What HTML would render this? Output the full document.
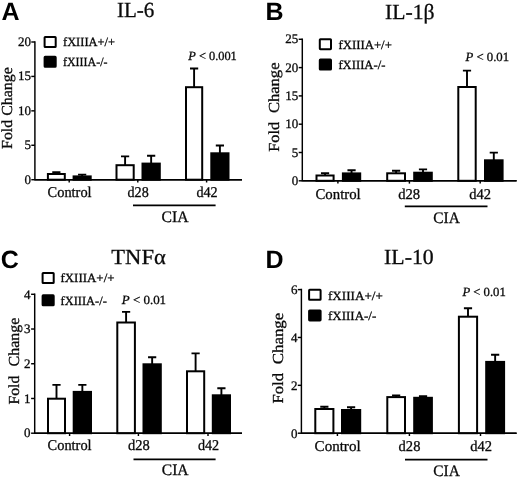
<!DOCTYPE html>
<html><head><meta charset="utf-8"><title>Figure</title>
<style>
html,body{margin:0;padding:0;background:#fff}
svg{display:block;will-change:transform}
text{font-family:"Liberation Serif", serif;fill:#0a0a0a;stroke:#0a0a0a;stroke-width:0.3px;text-rendering:geometricPrecision}
.ln{stroke:#000;stroke-width:1.45;fill:none}
.er{stroke:#000;stroke-width:1.9;fill:none}
.ci{stroke:#000;stroke-width:1.8;fill:none}
.bx{stroke:#000;stroke-width:2}
.pl{font-family:"Liberation Sans", sans-serif;font-weight:bold;font-size:25px;fill:#000;stroke:none}
</style></head>
<body>
<svg width="520" height="478" viewBox="0 0 520 478">
<rect width="520" height="478" fill="#fff"/>
<path d="M34.9 41.25V179.7H242" class="ln"/>
<path d="M31.299999999999997 179.70H34.9" class="ln"/>
<text x="30.9" y="183.6" font-size="13" text-anchor="end">0</text>
<path d="M31.299999999999997 145.27H34.9" class="ln"/>
<text x="30.9" y="149.17" font-size="13" text-anchor="end">5</text>
<path d="M31.299999999999997 110.85H34.9" class="ln"/>
<text x="30.9" y="114.75" font-size="13" text-anchor="end">10</text>
<path d="M31.299999999999997 76.42H34.9" class="ln"/>
<text x="30.9" y="80.33" font-size="13" text-anchor="end">15</text>
<path d="M31.299999999999997 42.00H34.9" class="ln"/>
<text x="30.9" y="45.9" font-size="13" text-anchor="end">20</text>
<path d="M69.2 179.7V182.5" class="ln"/>
<path d="M137.8 179.7V182.5" class="ln"/>
<path d="M206.6 179.7V182.5" class="ln"/>
<path d="M56.35 174V172.2M52.25 172.2H60.45" class="er"/>
<rect x="47.90" y="174.00" width="16.90" height="5.70" fill="#fff" class="bx"/>
<path d="M82.15 176.4V174.6M78.05 174.6H86.25" class="er"/>
<rect x="73.60" y="176.40" width="17.10" height="3.30" fill="#000" class="bx"/>
<path d="M125.10 165.2V156.4M121.00 156.4H129.20" class="er"/>
<rect x="116.50" y="165.20" width="17.20" height="14.50" fill="#fff" class="bx"/>
<path d="M151.15 163.6V155.8M147.05 155.8H155.25" class="er"/>
<rect x="142.50" y="163.60" width="17.30" height="16.10" fill="#000" class="bx"/>
<path d="M194.10 87.2V68.5M190.00 68.5H198.20" class="er"/>
<rect x="186.00" y="87.20" width="16.20" height="92.50" fill="#fff" class="bx"/>
<path d="M219.90 153.3V145.5M215.80 145.5H224.00" class="er"/>
<rect x="211.30" y="153.30" width="17.20" height="26.40" fill="#000" class="bx"/>
<path d="M34.9 179.7H242" class="ln"/>
<text x="47.6" y="197.2" font-size="15" textLength="44" lengthAdjust="spacingAndGlyphs">Control</text>
<text x="127.5" y="197.2" font-size="15" textLength="21.2" lengthAdjust="spacingAndGlyphs">d28</text>
<text x="196.4" y="197.2" font-size="15" textLength="21.3" lengthAdjust="spacingAndGlyphs">d42</text>
<path d="M133 205.4H215.6" class="ci"/>
<text x="161.5" y="221.6" font-size="16" textLength="27" lengthAdjust="spacingAndGlyphs">CIA</text>
<rect x="44.6" y="37.0" width="11.1" height="10" rx="0.6" fill="#fff" class="bx"/>
<rect x="44.6" y="56.8" width="11.1" height="10" rx="0.6" fill="#000" class="bx"/>
<text x="63" y="46.4" font-size="12.5" textLength="52" lengthAdjust="spacingAndGlyphs">fXIIIA+/+</text>
<text x="63" y="66.0" font-size="12.5" textLength="44.5" lengthAdjust="spacingAndGlyphs">fXIIIA-/-</text>
<text x="188.3" y="60.3" font-size="12.5" textLength="48.5" lengthAdjust="spacingAndGlyphs"><tspan font-style="italic">P</tspan> &lt; 0.001</text>
<text x="116.9" y="16.9" font-size="21.5" textLength="37.3" lengthAdjust="spacingAndGlyphs">IL-6</text>
<text x="1.6" y="19.5" class="pl">A</text>
<text transform="translate(12.1 148.9) rotate(-90)" font-size="15.3" textLength="81.6" lengthAdjust="spacingAndGlyphs">Fold Change</text>
<path d="M302.3 38.55V180.8H516.6" class="ln"/>
<path d="M298.7 180.80H302.3" class="ln"/>
<text x="298.2" y="184.8" font-size="13" text-anchor="end">0</text>
<path d="M298.7 152.50H302.3" class="ln"/>
<text x="298.2" y="156.5" font-size="13" text-anchor="end">5</text>
<path d="M298.7 124.20H302.3" class="ln"/>
<text x="298.2" y="128.2" font-size="13" text-anchor="end">10</text>
<path d="M298.7 95.90H302.3" class="ln"/>
<text x="298.2" y="99.9" font-size="13" text-anchor="end">15</text>
<path d="M298.7 67.60H302.3" class="ln"/>
<text x="298.2" y="71.6" font-size="13" text-anchor="end">20</text>
<path d="M298.7 39.30H302.3" class="ln"/>
<text x="298.2" y="43.3" font-size="13" text-anchor="end">25</text>
<path d="M337.9 180.8V183.60000000000002" class="ln"/>
<path d="M409.4 180.8V183.60000000000002" class="ln"/>
<path d="M480.2 180.8V183.60000000000002" class="ln"/>
<path d="M325.05 175.5V173.2M320.95 173.2H329.15" class="er"/>
<rect x="316.50" y="175.50" width="17.10" height="5.30" fill="#fff" class="bx"/>
<path d="M351.55 173.4V170.2M347.45 170.2H355.65" class="er"/>
<rect x="342.90" y="173.40" width="17.30" height="7.40" fill="#000" class="bx"/>
<path d="M396.10 173.3V170.8M392.00 170.8H400.20" class="er"/>
<rect x="387.20" y="173.30" width="17.80" height="7.50" fill="#fff" class="bx"/>
<path d="M423.00 172.7V169.4M418.90 169.4H427.10" class="er"/>
<rect x="414.20" y="172.70" width="17.60" height="8.10" fill="#000" class="bx"/>
<path d="M467.00 87.0V70.6M462.90 70.6H471.10" class="er"/>
<rect x="458.30" y="87.00" width="17.40" height="93.80" fill="#fff" class="bx"/>
<path d="M493.80 160.3V152.6M489.70 152.6H497.90" class="er"/>
<rect x="485.00" y="160.30" width="17.60" height="20.50" fill="#000" class="bx"/>
<path d="M302.3 180.8H516.6" class="ln"/>
<text x="315.5" y="198.8" font-size="15" textLength="45.2" lengthAdjust="spacingAndGlyphs">Control</text>
<text x="398.2" y="198.8" font-size="15" textLength="22" lengthAdjust="spacingAndGlyphs">d28</text>
<text x="469.3" y="198.8" font-size="15" textLength="21.8" lengthAdjust="spacingAndGlyphs">d42</text>
<path d="M404.8 206.3H487.5" class="ci"/>
<text x="433.3" y="222.8" font-size="16" textLength="26.5" lengthAdjust="spacingAndGlyphs">CIA</text>
<rect x="319.8" y="39.2" width="11.2" height="10" rx="0.6" fill="#fff" class="bx"/>
<rect x="319.8" y="59.6" width="11.2" height="10" rx="0.6" fill="#000" class="bx"/>
<text x="338.4" y="48.8" font-size="12.5" textLength="53.5" lengthAdjust="spacingAndGlyphs">fXIIIA+/+</text>
<text x="338.4" y="69.0" font-size="12.5" textLength="47.0" lengthAdjust="spacingAndGlyphs">fXIIIA-/-</text>
<text x="465.4" y="61" font-size="12.5" textLength="43.7" lengthAdjust="spacingAndGlyphs"><tspan font-style="italic">P</tspan> &lt; 0.01</text>
<text x="385" y="19.0" font-size="21.5" textLength="49.5" lengthAdjust="spacingAndGlyphs">IL-1β</text>
<text x="265.6" y="19.8" class="pl">B</text>
<text transform="translate(279.4 151.7) rotate(-90)" font-size="15.3" textLength="29.7" lengthAdjust="spacingAndGlyphs">Fold</text>
<text transform="translate(279.4 113.1) rotate(-90)" font-size="15.3" textLength="50.6" lengthAdjust="spacingAndGlyphs">Change</text>
<path d="M34.7 293.55V433.2H242" class="ln"/>
<path d="M31.1 433.20H34.7" class="ln"/>
<text x="30.5" y="437.4" font-size="13" text-anchor="end">0</text>
<path d="M31.1 398.48H34.7" class="ln"/>
<text x="30.5" y="402.68" font-size="13" text-anchor="end">1</text>
<path d="M31.1 363.75H34.7" class="ln"/>
<text x="30.5" y="367.95" font-size="13" text-anchor="end">2</text>
<path d="M31.1 329.02H34.7" class="ln"/>
<text x="30.5" y="333.22" font-size="13" text-anchor="end">3</text>
<path d="M31.1 294.30H34.7" class="ln"/>
<text x="30.5" y="298.5" font-size="13" text-anchor="end">4</text>
<path d="M69.6 433.2V436.0" class="ln"/>
<path d="M138.4 433.2V436.0" class="ln"/>
<path d="M208 433.2V436.0" class="ln"/>
<path d="M56.50 398.7V384.9M52.40 384.9H60.60" class="er"/>
<rect x="48.00" y="398.70" width="17.00" height="34.50" fill="#fff" class="bx"/>
<path d="M82.35 391.9V384.9M78.25 384.9H86.45" class="er"/>
<rect x="73.70" y="391.90" width="17.30" height="41.30" fill="#000" class="bx"/>
<path d="M126.10 322.5V311.9M122.00 311.9H130.20" class="er"/>
<rect x="117.30" y="322.50" width="17.60" height="110.70" fill="#fff" class="bx"/>
<path d="M152.15 364.3V357.2M148.05 357.2H156.25" class="er"/>
<rect x="143.50" y="364.30" width="17.30" height="68.90" fill="#000" class="bx"/>
<path d="M195.60 371.3V353.4M191.50 353.4H199.70" class="er"/>
<rect x="187.00" y="371.30" width="17.20" height="61.90" fill="#fff" class="bx"/>
<path d="M221.40 395.3V388.3M217.30 388.3H225.50" class="er"/>
<rect x="212.80" y="395.30" width="17.20" height="37.90" fill="#000" class="bx"/>
<path d="M34.7 433.2H242" class="ln"/>
<text x="47.6" y="450.4" font-size="15" textLength="44" lengthAdjust="spacingAndGlyphs">Control</text>
<text x="128.0" y="450.4" font-size="15" textLength="21.8" lengthAdjust="spacingAndGlyphs">d28</text>
<text x="197.9" y="450.4" font-size="15" textLength="21.3" lengthAdjust="spacingAndGlyphs">d42</text>
<path d="M133.5 459.3H215.6" class="ci"/>
<text x="161.8" y="475.3" font-size="16" textLength="26.8" lengthAdjust="spacingAndGlyphs">CIA</text>
<rect x="42.6" y="273.0" width="11.1" height="10" rx="0.6" fill="#fff" class="bx"/>
<rect x="42.6" y="295.3" width="11.1" height="10" rx="0.6" fill="#000" class="bx"/>
<text x="60.5" y="282.2" font-size="12.5" textLength="54" lengthAdjust="spacingAndGlyphs">fXIIIA+/+</text>
<text x="60.5" y="304.5" font-size="12.5" textLength="46.3" lengthAdjust="spacingAndGlyphs">fXIIIA-/-</text>
<text x="121.8" y="303.5" font-size="12.5" textLength="44.3" lengthAdjust="spacingAndGlyphs"><tspan font-style="italic">P</tspan> &lt; 0.01</text>
<text x="111.3" y="264.2" font-size="21.5" textLength="54.5" lengthAdjust="spacingAndGlyphs">TNFα</text>
<text x="0.8" y="268.4" class="pl">C</text>
<text transform="translate(18.5 404.6) rotate(-90)" font-size="15.3" textLength="28.9" lengthAdjust="spacingAndGlyphs">Fold</text>
<text transform="translate(18.5 366.5) rotate(-90)" font-size="15.3" textLength="48.8" lengthAdjust="spacingAndGlyphs">Change</text>
<path d="M301.4 288.85V433.2H516.6" class="ln"/>
<path d="M297.79999999999995 433.20H301.4" class="ln"/>
<text x="297.6" y="437.6" font-size="13" text-anchor="end">0</text>
<path d="M297.79999999999995 385.33H301.4" class="ln"/>
<text x="297.6" y="389.73" font-size="13" text-anchor="end">2</text>
<path d="M297.79999999999995 337.47H301.4" class="ln"/>
<text x="297.6" y="341.87" font-size="13" text-anchor="end">4</text>
<path d="M297.79999999999995 289.60H301.4" class="ln"/>
<text x="297.6" y="294.0" font-size="13" text-anchor="end">6</text>
<path d="M337.4 433.2V436.0" class="ln"/>
<path d="M409.4 433.2V436.0" class="ln"/>
<path d="M480.5 433.2V436.0" class="ln"/>
<path d="M324.35 409.0V406.7M320.25 406.7H328.45" class="er"/>
<rect x="315.30" y="409.00" width="18.10" height="24.20" fill="#fff" class="bx"/>
<path d="M351.10 410.0V407.3M347.00 407.3H355.20" class="er"/>
<rect x="342.00" y="410.00" width="18.20" height="23.20" fill="#000" class="bx"/>
<path d="M396.15 397.1V395.5M392.05 395.5H400.25" class="er"/>
<rect x="387.30" y="397.10" width="17.70" height="36.10" fill="#fff" class="bx"/>
<path d="M423.05 397.8V396.3M418.95 396.3H427.15" class="er"/>
<rect x="414.20" y="397.80" width="17.70" height="35.40" fill="#000" class="bx"/>
<path d="M468.00 316.7V308.3M463.90 308.3H472.10" class="er"/>
<rect x="458.90" y="316.70" width="18.20" height="116.50" fill="#fff" class="bx"/>
<path d="M495.15 361.9V354.8M491.05 354.8H499.25" class="er"/>
<rect x="486.20" y="361.90" width="17.90" height="71.30" fill="#000" class="bx"/>
<path d="M301.4 433.2H516.6" class="ln"/>
<text x="314.6" y="450.8" font-size="15" textLength="46" lengthAdjust="spacingAndGlyphs">Control</text>
<text x="398.6" y="450.8" font-size="15" textLength="21.8" lengthAdjust="spacingAndGlyphs">d28</text>
<text x="470.2" y="450.8" font-size="15" textLength="21.8" lengthAdjust="spacingAndGlyphs">d42</text>
<path d="M405.0 459.6H487.5" class="ci"/>
<text x="433.3" y="475.6" font-size="16" textLength="26.5" lengthAdjust="spacingAndGlyphs">CIA</text>
<rect x="309.1" y="289.8" width="11.5" height="10" rx="0.6" fill="#fff" class="bx"/>
<rect x="309.1" y="310.4" width="11.5" height="10" rx="0.6" fill="#000" class="bx"/>
<text x="328.0" y="299.5" font-size="12.5" textLength="54.8" lengthAdjust="spacingAndGlyphs">fXIIIA+/+</text>
<text x="328.0" y="319.7" font-size="12.5" textLength="48.3" lengthAdjust="spacingAndGlyphs">fXIIIA-/-</text>
<text x="462.4" y="296.3" font-size="12.5" textLength="43.4" lengthAdjust="spacingAndGlyphs"><tspan font-style="italic">P</tspan> &lt; 0.01</text>
<text x="384.1" y="263.6" font-size="21.5" textLength="49.6" lengthAdjust="spacingAndGlyphs">IL-10</text>
<text x="265.6" y="268.3" class="pl">D</text>
<text transform="translate(283.3 403.6) rotate(-90)" font-size="15.3" textLength="30.6" lengthAdjust="spacingAndGlyphs">Fold</text>
<text transform="translate(283.3 364.3) rotate(-90)" font-size="15.3" textLength="51.6" lengthAdjust="spacingAndGlyphs">Change</text>
</svg>
</body></html>
